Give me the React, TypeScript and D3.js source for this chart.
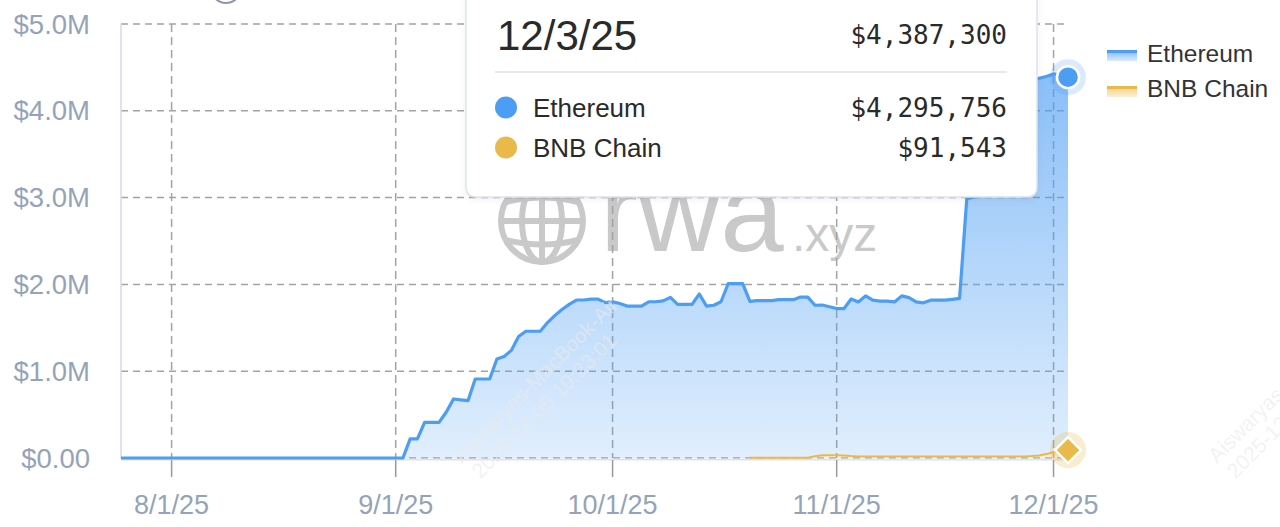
import React, { useEffect } from "react";
import * as d3 from "d3";

// ---------- data (values in $M) ----------
const START_DATE = "2025-07-25";
const ethValues: number[] = [
  0, 0, 0, 0, 0, 0, 0, 0, 0, 0,
  0, 0, 0, 0, 0, 0, 0, 0, 0, 0,
  0, 0, 0, 0, 0, 0, 0, 0, 0, 0,
  0, 0, 0, 0, 0, 0, 0, 0, 0, 0,
  0.22, 0.22, 0.41, 0.41, 0.41, 0.53, 0.68, 0.67, 0.66, 0.91,
  0.91, 0.91, 1.14, 1.17, 1.24, 1.4, 1.46, 1.46, 1.46, 1.56,
  1.64, 1.71, 1.77, 1.82, 1.82, 1.83, 1.83, 1.79, 1.8, 1.78,
  1.75, 1.75, 1.75, 1.8, 1.8, 1.81, 1.85, 1.77, 1.77, 1.77,
  1.89, 1.75, 1.76, 1.8, 2.01, 2.01, 2.01, 1.8, 1.81, 1.81,
  1.81, 1.82, 1.82, 1.82, 1.85, 1.85, 1.74, 1.73, 1.71, 1.69,
  1.69, 1.81, 1.78, 1.85, 1.8, 1.79, 1.79, 1.78, 1.85, 1.83,
  1.78, 1.77, 1.8, 1.8, 1.8, 1.81, 1.82, 2.97, 2.99, 3.0,
  3.02, 3.03, 3.05, 4.26, 4.28, 4.3, 4.32, 4.345, 4.35, 4.355,
  4.325, 4.295756,
];
const bnbValues: (number | null)[] = [
  ...Array(87).fill(null),
  0.004, 0.004, 0.004, 0.004, 0.004, 0.004, 0.004, 0.004, 0.004, 0.02,
  0.032, 0.032, 0.032, 0.03, 0.022, 0.018, 0.018, 0.018, 0.018, 0.018,
  0.018, 0.018, 0.018, 0.018, 0.018, 0.018, 0.018, 0.018, 0.018, 0.018,
  0.018, 0.018, 0.018, 0.018, 0.018, 0.018, 0.018, 0.018, 0.018, 0.022,
  0.03, 0.045, 0.07, 0.085, 0.091543,
];
const seriesNames = ["Ethereum", "BNB Chain"];
const seriesColors = ["#4c9df4", "#e9b949"];
const yTickValues = [0, 1, 2, 3, 4, 5];
const tooltipDate = "12/3/25";
const tooltipTotal = "$4,387,300";
const tooltipValues = ["$4,295,756", "$91,543"];
const watermarkLines = ["Aiswaryas-MacBook-Air", "2025-12-05 10:23:01"];

const W = 1280;
const H = 527;

export default function App() {
  useEffect(() => {
    document.body.style.margin = "0";
  }, []);

  const start = d3.timeParse("%Y-%m-%d")(START_DATE)!;
  const dates = ethValues.map((_, i) => d3.timeDay.offset(start, i));
  const rows = dates.map((d, i) => ({
    date: d,
    eth: ethValues[i] * 1e6,
    bnb: bnbValues[i] == null ? 0 : (bnbValues[i] as number) * 1e6,
    hasBnb: bnbValues[i] != null,
  }));

  const x = d3
    .scaleTime()
    .domain([dates[0], dates[dates.length - 1]])
    .range([121, 1068]);
  const y = d3.scaleLinear().domain([0, 5e6]).range([458, 24]);

  const stacked = d3.stack<any>().keys(["bnb", "eth"])(rows as any);
  const bnbS = stacked[0];
  const ethS = stacked[1];

  const ethArea = d3
    .area<any>()
    .x((_, i) => x(dates[i]))
    .y0((d) => y(d[0]))
    .y1((d) => y(d[1]));
  const ethLine = d3
    .line<any>()
    .x((_, i) => x(dates[i]))
    .y((d) => y(d[1]));
  const bnbArea = d3
    .area<any>()
    .defined((_, i) => rows[i].hasBnb)
    .x((_, i) => x(dates[i]))
    .y0((d) => y(d[0]))
    .y1((d) => y(d[1]));
  const bnbLine = d3
    .line<any>()
    .defined((_, i) => rows[i].hasBnb)
    .x((_, i) => x(dates[i]))
    .y((d) => y(d[1]));

  const monthTicks = d3.timeMonth.range(
    d3.timeMonth.ceil(dates[0]),
    dates[dates.length - 1]
  );
  const fmtDate = (d: Date) =>
    `${d.getMonth() + 1}/${d.getDate()}/${String(d.getFullYear()).slice(2)}`;
  const fmtY = (v: number) => (v === 0 ? "$0.00" : `$${v.toFixed(1)}M`);

  const last = rows.length - 1;
  const lastX = x(dates[last]);
  const ethTopY = y(ethS[last][1]);
  const bnbTopY = y(bnbS[last][1]);
  const maxTop = d3.max(ethS, (d) => d[1]) as number;

  const axisColor = "#95a3b9";
  const gridColor = "#a3a3a3";
  const sans = "'Liberation Sans', Arial, Helvetica, sans-serif";
  const mono = "'DejaVu Sans Mono', 'Liberation Mono', monospace";

  // globe watermark
  const gcx = 542,
    gcy = 221,
    gr = 41;

  return (
    <svg
      width={W}
      height={H}
      viewBox={`0 0 ${W} ${H}`}
      style={{ position: "fixed", left: 0, top: 0, display: "block", background: "#fff" }}
    >
      <defs>
        <linearGradient id="ethGrad" gradientUnits="userSpaceOnUse" x1="0" x2="0" y1={y(maxTop)} y2={y(0)}>
          <stop offset="0" stopColor={seriesColors[0]} stopOpacity={0.66} />
          <stop offset="1" stopColor={seriesColors[0]} stopOpacity={0.17} />
        </linearGradient>
        <linearGradient id="bnbGrad" x1="0" x2="0" y1="0" y2="1">
          <stop offset="0" stopColor={seriesColors[1]} stopOpacity={0.55} />
          <stop offset="1" stopColor={seriesColors[1]} stopOpacity={0.15} />
        </linearGradient>
        <linearGradient id="legEth" x1="0" x2="0" y1="0" y2="1">
          <stop offset="0" stopColor={seriesColors[0]} stopOpacity={0.75} />
          <stop offset="1" stopColor={seriesColors[0]} stopOpacity={0.2} />
        </linearGradient>
        <linearGradient id="legBnb" x1="0" x2="0" y1="0" y2="1">
          <stop offset="0" stopColor={seriesColors[1]} stopOpacity={0.75} />
          <stop offset="1" stopColor={seriesColors[1]} stopOpacity={0.2} />
        </linearGradient>
        <filter id="tipShadow" x="-10%" y="-10%" width="120%" height="130%">
          <feDropShadow dx="0" dy="2" stdDeviation="3" floodColor="#000" floodOpacity="0.06" />
        </filter>
      </defs>

      {/* partial icon at the top */}
      <circle cx={226} cy={-12} r={15} fill="#fff" stroke="#8d97a8" strokeWidth={2} />

      {/* rwa.xyz watermark */}
      <g fill="none" stroke="#c9c9c9" strokeWidth={6}>
        <circle cx={gcx} cy={gcy} r={gr} />
        <ellipse cx={gcx} cy={gcy} rx={20} ry={gr} />
        <line x1={gcx} x2={gcx} y1={gcy - gr} y2={gcy + gr} />
        <line x1={gcx - gr} x2={gcx + gr} y1={gcy} y2={gcy} />
        <path d={`M${gcx - 36},${gcy - 19} Q${gcx},${gcy - 28} ${gcx + 36},${gcy - 19}`} />
        <path d={`M${gcx - 36},${gcy + 19} Q${gcx},${gcy + 28} ${gcx + 36},${gcy + 19}`} />
      </g>
      <text x={600} y={251} fontFamily={sans} fontSize={114} fill="#c9c9c9">
        rwa
      </text>
      <text x={792} y={251} fontFamily={sans} fontSize={48} fill="#c9c9c9">
        .xyz
      </text>

      {/* grid */}
      <g>
        {yTickValues.map((v) => (
          <line
            key={"h" + v}
            x1={121}
            x2={1068}
            y1={y(v * 1e6)}
            y2={y(v * 1e6)}
            stroke={gridColor}
            strokeWidth={1.5}
            strokeDasharray="7 5"
          />
        ))}
        {monthTicks.map((d) => (
          <line
            key={"v" + d.getTime()}
            x1={x(d)}
            x2={x(d)}
            y1={24}
            y2={458}
            stroke={gridColor}
            strokeWidth={1.5}
            strokeDasharray="8 5"
          />
        ))}
      </g>

      {/* axes */}
      <line x1={121} x2={121} y1={24} y2={459} stroke="#d3dbe9" strokeWidth={1.5} />
      <line x1={121} x2={1068} y1={459.5} y2={459.5} stroke="#dde3ee" strokeWidth={2} />
      {monthTicks.map((d) => (
        <g key={"t" + d.getTime()}>
          <line x1={x(d)} x2={x(d)} y1={460} y2={477} stroke="#9a9a9a" strokeWidth={1.5} />
          <text
            x={x(d)}
            y={514}
            textAnchor="middle"
            fontFamily={sans}
            fontSize={27}
            fill={axisColor}
          >
            {fmtDate(d)}
          </text>
        </g>
      ))}
      {yTickValues.map((v) => (
        <text
          key={"yl" + v}
          x={90}
          y={y(v * 1e6) + 9.5}
          textAnchor="end"
          fontFamily={sans}
          fontSize={27.5}
          fill={axisColor}
        >
          {fmtY(v)}
        </text>
      ))}

      {/* series */}
      <path d={ethArea(ethS as any) || ""} fill="url(#ethGrad)" />
      <path d={bnbArea(bnbS as any) || ""} fill="url(#bnbGrad)" />
      <path
        d={ethLine(ethS as any) || ""}
        fill="none"
        stroke={seriesColors[0]}
        strokeWidth={3.2}
        strokeLinejoin="round"
      />
      <path
        d={bnbLine(bnbS as any) || ""}
        fill="none"
        stroke={seriesColors[1]}
        strokeWidth={2}
        strokeLinejoin="round"
      />

      {/* diagonal watermark text */}
      {[0, 755].map((dx) => (
        <g
          key={"wm" + dx}
          transform={`translate(${462 + dx},${464}) rotate(-45)`}
          fontFamily={sans}
          fontSize={21}
          fill="#eaeaea"
          opacity={0.6}
        >
          <text x={0} y={0}>
            {watermarkLines[0]}
          </text>
          <text x={2} y={24}>
            {watermarkLines[1]}
          </text>
        </g>
      ))}

      {/* active markers */}
      <circle cx={lastX} cy={ethTopY} r={18} fill={seriesColors[0]} opacity={0.2} />
      <circle cx={lastX} cy={ethTopY} r={11} fill={seriesColors[0]} stroke="#fff" strokeWidth={2.5} />
      <circle cx={lastX} cy={bnbTopY} r={18} fill={seriesColors[1]} opacity={0.25} />
      <path
        d={`M${lastX},${bnbTopY - 13} L${lastX + 13},${bnbTopY} L${lastX},${bnbTopY + 13} L${lastX - 13},${bnbTopY} Z`}
        fill={seriesColors[1]}
        stroke="#fff"
        strokeWidth={2.5}
      />

      {/* legend */}
      <g>
        <rect x={1107} y={50} width={30} height={11} fill="url(#legEth)" />
        <rect x={1107} y={50} width={30} height={3} fill={seriesColors[0]} />
        <text x={1147} y={62} fontFamily={sans} fontSize={24.5} fill="#333">
          {seriesNames[0]}
        </text>
        <rect x={1107} y={86} width={30} height={11} fill="url(#legBnb)" />
        <rect x={1107} y={86} width={30} height={3} fill={seriesColors[1]} />
        <text x={1147} y={97} fontFamily={sans} fontSize={24.5} fill="#333">
          {seriesNames[1]}
        </text>
      </g>

      {/* tooltip */}
      <g>
        <rect
          x={466}
          y={-20}
          width={571}
          height={217}
          rx={9}
          fill="#fff"
          stroke="#dde2eb"
          strokeWidth={1.5}
          filter="url(#tipShadow)"
        />
        <text x={497} y={50} fontFamily={sans} fontSize={42} fill="#2a2a2a">
          {tooltipDate}
        </text>
        <text x={1007} y={44} textAnchor="end" fontFamily={mono} fontSize={26} fill="#2a2a2a">
          {tooltipTotal}
        </text>
        <line x1={495} x2={1007} y1={72} y2={72} stroke="#dfe3ea" strokeWidth={1.5} />
        {seriesNames.map((n, i) => (
          <g key={"tt" + n}>
            <circle cx={506} cy={107.5 + i * 40} r={11} fill={seriesColors[i]} />
            <text x={533} y={117 + i * 40} fontFamily={sans} fontSize={26} fill="#2a2a2a">
              {n}
            </text>
            <text
              x={1007}
              y={117 + i * 40}
              textAnchor="end"
              fontFamily={mono}
              fontSize={26}
              fill="#2a2a2a"
            >
              {tooltipValues[i]}
            </text>
          </g>
        ))}
      </g>
    </svg>
  );
}
